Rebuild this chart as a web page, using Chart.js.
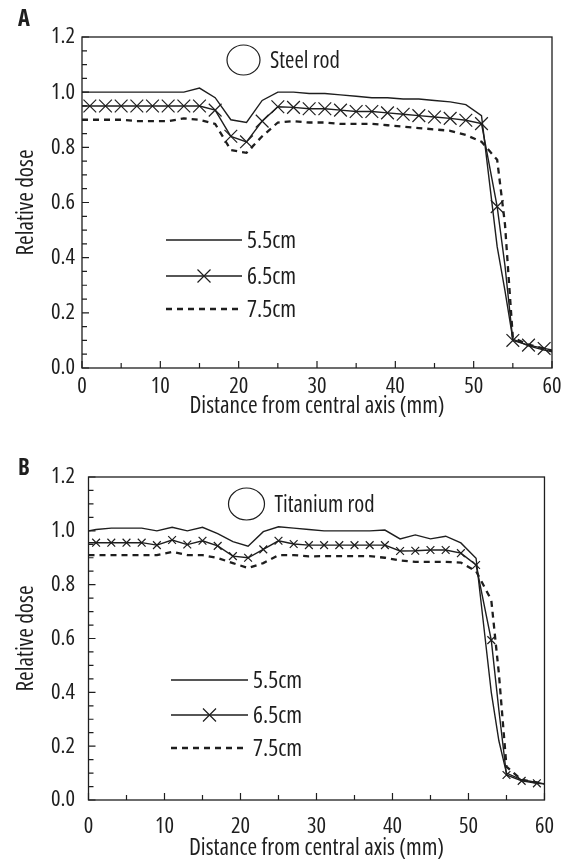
<!DOCTYPE html>
<html>
<head>
<meta charset="utf-8">
<script src="https://cdn.jsdelivr.net/npm/chart.js@4.4.1/dist/chart.umd.min.js"></script>
<style>
  body { margin: 0; width: 567px; height: 859px; overflow: hidden; background: #fff; position: relative; }
  canvas { position: absolute; left: 0; }
  #chartA { top: 0; }
  #chartB { top: 430px; }
</style>
</head>
<body>
<canvas id="chartA" width="567" height="440"></canvas>
<canvas id="chartB" width="567" height="440"></canvas>
<script>
// distance from central axis (mm), same sampling for every curve
const distance = [0, 1, 3, 5, 7, 9, 11, 13, 15, 17, 19, 21, 23, 25, 27, 29, 31, 33, 35, 37, 39, 41, 43, 45, 47, 49, 51, 53, 54, 55, 57, 59, 60]
const depths = ['5.5cm', '6.5cm', '7.5cm']
const xTicks = [0, 10, 20, 30, 40, 50, 60]
const yTicks = [0, 0.2, 0.4, 0.6, 0.8, 1.0, 1.2]

// panel A - steel rod
const steel55 = [1.0, 1.0, 1.0, 1.0, 1.0, 1.0, 1.0, 1.0, 1.015, 0.98, 0.90, 0.89, 0.97, 1.0, 1.0, 0.995, 0.995, 0.99, 0.985, 0.98, 0.98, 0.975, 0.975, 0.97, 0.965, 0.955, 0.915, 0.44, 0.28, 0.105, 0.08, 0.065, 0.06]
const steel65 = [0.95, 0.95, 0.95, 0.95, 0.95, 0.95, 0.95, 0.95, 0.95, 0.935, 0.84, 0.82, 0.895, 0.947, 0.945, 0.94, 0.94, 0.935, 0.93, 0.93, 0.925, 0.92, 0.915, 0.91, 0.905, 0.898, 0.886, 0.585, 0.37, 0.10, 0.083, 0.071, 0.065]
const steel75 = [0.90, 0.90, 0.90, 0.90, 0.895, 0.895, 0.895, 0.905, 0.90, 0.885, 0.79, 0.78, 0.84, 0.89, 0.895, 0.89, 0.89, 0.885, 0.885, 0.885, 0.88, 0.875, 0.87, 0.865, 0.86, 0.845, 0.82, 0.755, 0.52, 0.11, 0.085, 0.07, 0.06]

// panel B - titanium rod
const titan55 = [1.0, 1.005, 1.01, 1.01, 1.01, 1.0, 1.013, 1.0, 1.013, 0.99, 0.96, 0.943, 0.997, 1.015, 1.01, 1.005, 1.0, 1.0, 1.0, 1.0, 1.003, 0.97, 0.985, 0.97, 0.98, 0.955, 0.898, 0.40, 0.22, 0.10, 0.075, 0.065, 0.06]
const titan65 = [0.956, 0.956, 0.956, 0.956, 0.956, 0.947, 0.966, 0.949, 0.963, 0.944, 0.906, 0.90, 0.931, 0.963, 0.951, 0.947, 0.947, 0.947, 0.947, 0.947, 0.947, 0.925, 0.926, 0.929, 0.929, 0.917, 0.873, 0.594, 0.334, 0.093, 0.071, 0.062, 0.06]
const titan75 = [0.91, 0.91, 0.91, 0.91, 0.91, 0.91, 0.922, 0.91, 0.91, 0.899, 0.88, 0.862, 0.88, 0.91, 0.91, 0.905, 0.906, 0.906, 0.906, 0.906, 0.90, 0.89, 0.885, 0.885, 0.885, 0.882, 0.85, 0.743, 0.47, 0.124, 0.075, 0.065, 0.06]

const INK = '#1e1e1e'

// the original uses a condensed face; try Open Sans narrowed, else plain Liberation Sans
const probe = document.createElement('canvas').getContext('2d')
function widthOf(font, text) { probe.font = font; return probe.measureText(text).width }
let ratio = widthOf("condensed 50px 'Open Sans'", 'Distance') / widthOf("50px 'Open Sans'", 'Distance')
const NARROW = ratio > 0.65 && ratio < 0.93
const FAMILY = NARROW ? "'Open Sans'" : "'Liberation Sans', Arial, sans-serif"
const STRETCH = NARROW ? 'condensed' : 'normal'
// sizes picked so the strings span what they span in the picture
function sizeFor(text, px) { return Math.round(px / widthOf(STRETCH + ' 100px ' + FAMILY, text) * 1000) / 10 }
const titleSize = sizeFor('Distance from central axis (mm)', 255)
const tickSize = sizeFor('0.0', 24)
const legendSize = sizeFor('5.5cm', 49)
const rodSize = sizeFor('Steel rod', 70)
function fontStr(size, bold) { return (bold ? 'bold ' : '') + STRETCH + ' ' + size + 'px ' + FAMILY }

Chart.defaults.font.family = FAMILY
Chart.defaults.color = INK

function points(vals) {
  return distance.map((x, i) => ({ x: x, y: vals[i] }))
}

// draws frame, inward ticks, panel letter, rod symbol and the line legend
const decor = {
  id: 'decor',
  afterDraw(chart, args, o) {
    const ctx = chart.ctx
    const a = chart.chartArea
    const xs = chart.scales.x, ys = chart.scales.y
    ctx.save()
    ctx.strokeStyle = INK
    ctx.lineWidth = 1.3
    ctx.strokeRect(a.left, a.top, a.right - a.left, a.bottom - a.top)

    ctx.lineWidth = 1.2
    ctx.beginPath()
    for (let i = 0; i <= 24; i++) {
      let y = ys.getPixelForValue(i * 0.05)
      let len = i % 4 === 0 ? 7 : 5
      ctx.moveTo(a.left, y); ctx.lineTo(a.left + len, y)
    }
    for (let i = 0; i <= 12; i++) {
      let x = xs.getPixelForValue(i * 5)
      let len = i % 2 === 0 ? 7 : 5
      ctx.moveTo(x, a.bottom); ctx.lineTo(x, a.bottom - len)
    }
    ctx.stroke()

    ctx.fillStyle = INK
    ctx.font = fontStr(tickSize, true)
    ctx.textAlign = 'center'
    ctx.textBaseline = 'middle'
    ctx.fillText(o.letter, o.letterX, o.letterY)

    // rod symbol
    let e = o.ellipse
    ctx.lineWidth = 1.2
    ctx.beginPath()
    ctx.ellipse(a.left + e.cx, a.top + e.cy, e.rx, e.ry, 0, 0, Math.PI * 2)
    ctx.stroke()
    ctx.font = fontStr(rodSize)
    ctx.textAlign = 'left'
    ctx.fillText(o.rod, a.left + e.cx + e.rx + 10, a.top + e.cy + 2)

    // legend
    ctx.font = fontStr(legendSize)
    chart.data.datasets.forEach((ds, i) => {
      let y = a.top + o.legendY[i]
      let x0 = a.left + o.legendX[0], x1 = a.left + o.legendX[1]
      ctx.lineWidth = ds.borderWidth
      ctx.setLineDash(ds.borderDash || [])
      ctx.beginPath()
      ctx.moveTo(x0, y); ctx.lineTo(x1, y)
      ctx.stroke()
      ctx.setLineDash([])
      if (ds.marker) {
        let r = o.legendMarker, xm = (x0 + x1) / 2
        ctx.lineWidth = 1.2
        ctx.beginPath()
        ctx.moveTo(xm - r, y - r); ctx.lineTo(xm + r, y + r)
        ctx.moveTo(xm - r, y + r); ctx.lineTo(xm + r, y - r)
        ctx.stroke()
      }
      ctx.fillText(ds.label, x1 + 5, y + 1)
    })
    ctx.restore()
  }
}

function makeChart(id, series, cfg) {
  let markerRadius = ctx => distance[ctx.dataIndex] % 2 === 1 ? cfg.markerR : 0
  return new Chart(document.getElementById(id), {
    type: 'line',
    data: {
      datasets: [
        { label: depths[0], data: points(series[0]), borderColor: INK, borderWidth: 1.4, pointRadius: 0, marker: false },
        { label: depths[1], data: points(series[1]), borderColor: INK, borderWidth: 1.4, marker: true,
          pointStyle: 'crossRot', pointRadius: markerRadius, pointBorderColor: INK, pointBorderWidth: 1.2, pointHoverRadius: 0 },
        { label: depths[2], data: points(series[2]), borderColor: INK, borderWidth: 2.3, borderDash: [6, 5], pointRadius: 0, marker: false }
      ]
    },
    options: {
      responsive: false,
      animation: false,
      events: [],
      layout: { padding: cfg.padding },
      scales: {
        x: {
          type: 'linear', min: 0, max: 60,
          afterBuildTicks: s => { s.ticks = xTicks.map(v => ({ value: v })) },
          ticks: { padding: cfg.xPad, font: { size: tickSize, weight: STRETCH }, color: INK, maxRotation: 0 },
          grid: { display: false, drawTicks: false },
          border: { display: false },
          title: { display: true, text: 'Distance from central axis (mm)', font: { size: titleSize, weight: STRETCH }, color: INK, padding: { top: 0, bottom: 4 } },
          afterFit: s => { s.height = cfg.xHeight }
        },
        y: {
          min: 0, max: 1.2,
          afterBuildTicks: s => { s.ticks = yTicks.map(v => ({ value: v })) },
          ticks: { padding: cfg.yPad, font: { size: tickSize, weight: STRETCH }, color: INK, callback: v => v.toFixed(1) },
          grid: { display: false, drawTicks: false },
          border: { display: false },
          title: { display: true, text: 'Relative dose', font: { size: titleSize, weight: STRETCH }, color: INK, padding: { top: 12, bottom: 0 } },
          afterFit: s => { s.width = cfg.yWidth }
        }
      },
      plugins: {
        legend: { display: false },
        tooltip: { enabled: false },
        decor: cfg.decor
      }
    },
    plugins: [decor]
  })
}

makeChart('chartA', [steel55, steel65, steel75], {
  markerR: 9, padding: { left: 0, right: 15, top: 37, bottom: 16 },
  xPad: 5, yPad: 7, xHeight: 56, yWidth: 82,
  decor: { letter: 'A', letterX: 24, letterY: 20, rod: 'Steel rod',
    ellipse: { cx: 161.5, cy: 23, rx: 16.5, ry: 15 },
    legendX: [84, 160], legendY: [203, 239, 272], legendMarker: 6.5 }
})

makeChart('chartB', [titan55, titan65, titan75], {
  markerR: 5.5, padding: { left: 0, right: 16.5, top: 47, bottom: 4 },
  xPad: 13, yPad: 13.5, xHeight: 66, yWidth: 88.5,
  decor: { letter: 'B', letterX: 24, letterY: 38.5, rod: 'Titanium rod',
    ellipse: { cx: 158, cy: 27, rx: 18, ry: 16 },
    legendX: [82.5, 159.5], legendY: [203, 238, 271], legendMarker: 6.5 }
})
</script>
</body>
</html>
